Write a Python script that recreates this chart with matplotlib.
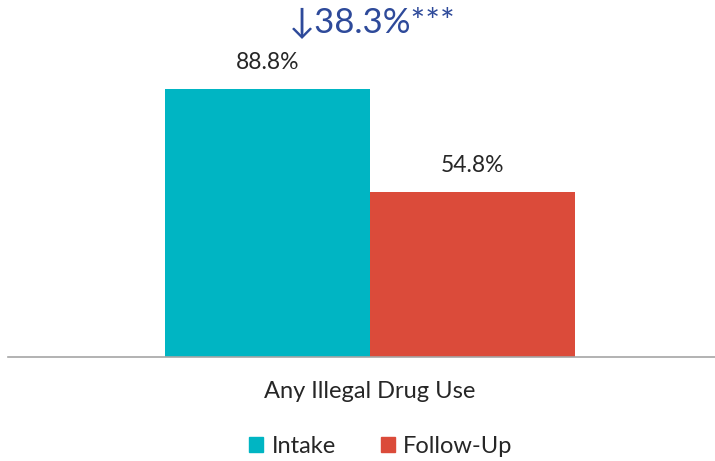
import matplotlib
matplotlib.use("Agg")
import matplotlib.pyplot as plt
from matplotlib.patches import Rectangle

categories = ["Any Illegal Drug Use"]
series_names = ["Intake", "Follow-Up"]
intake = [88.8]
follow_up = [54.8]
change_label = "↓38.3%***"

colors = ["#00B5C3", "#DB4B3A"]
plt.rcParams['font.family'] = ['Lato', 'DejaVu Sans']

fig = plt.figure(figsize=(7.15, 4.61), dpi=100)
ax = fig.add_axes([8/715, (461-357)/461, 707/715, 357/461])

w = 0.4
xs = [-w/2, w/2]
vals = [intake[0], follow_up[0]]
for x, v, c, name in zip(xs, vals, colors, series_names):
    ax.bar(x, v, width=w, color=c, label=name)
    ax.text(x, v + 8.8, f"{v:.1f}%", ha='center', va='center', fontsize=16.5, color='#262626')

ax.set_xlim((8-370)/512.5, (715-370)/512.5)
ax.set_ylim(0, 357/3.018)
for s in ['top', 'right', 'left']:
    ax.spines[s].set_visible(False)
ax.spines['bottom'].set_color('#A6A6A6')
ax.spines['bottom'].set_linewidth(1.2)
ax.set_yticks([])
ax.set_xticks([])

fig.text(370/715, 1 - 391/461, categories[0], ha='center', va='center', fontsize=17, color='#262626')
fig.text(372/715, 1 - 22/461, change_label, ha='center', va='center', fontsize=25, color='#2E4A9A',
         family=['Lato', 'DejaVu Sans'])

# legend
handles = [Rectangle((0, 0), 1, 1, color=c) for c in colors]
fig.legend(handles, series_names, loc='center', bbox_to_anchor=(381/715, 1 - 446/461), ncol=2,
           frameon=False, fontsize=17, handlelength=0.6, handleheight=0.6, handletextpad=0.35,
           columnspacing=1.9, labelcolor='#262626')

fig.savefig("out.png", dpi=100)
